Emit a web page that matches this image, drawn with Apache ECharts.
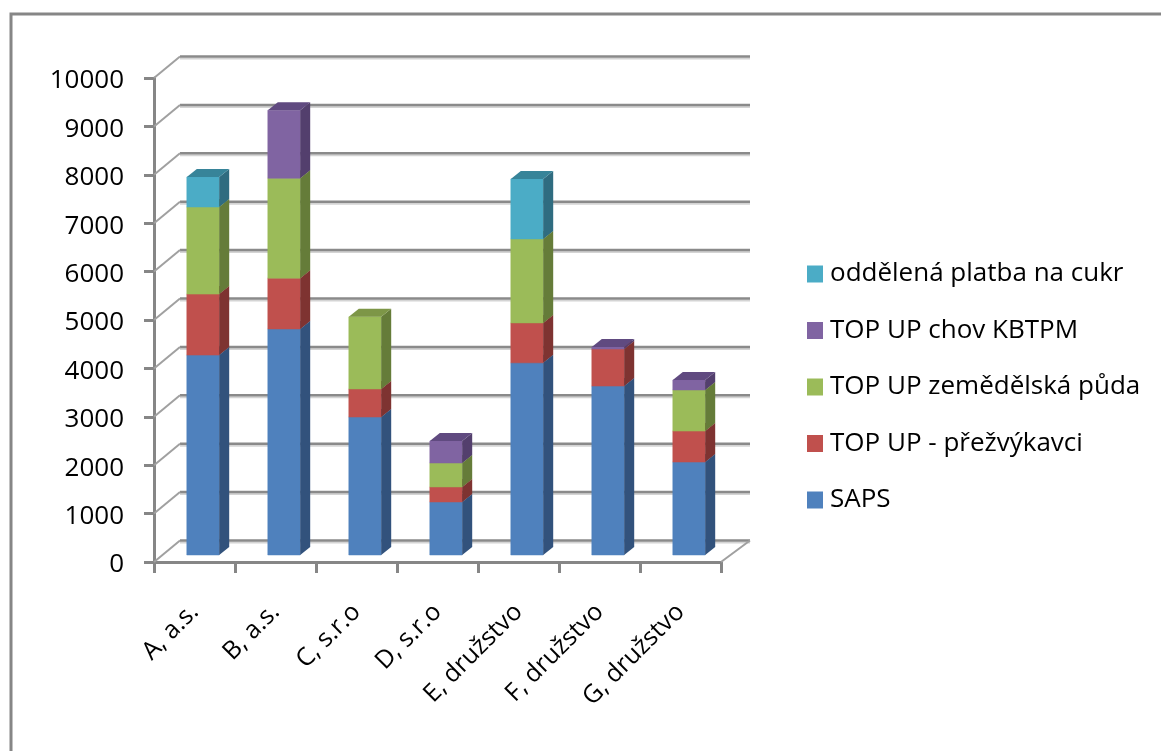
<!DOCTYPE html>
<html><head><meta charset="utf-8">
<style>html,body{margin:0;padding:0;background:#fff}#c{width:1161px;height:751px}</style>
<script src="https://cdn.jsdelivr.net/npm/echarts@6/dist/echarts.min.js"></script>
</head><body><div id="c"></div>
<script>
const categories = ['A, a.s.','B, a.s.','C, s.r.o','D, s.r.o','E, družstvo','F, družstvo','G, družstvo'];
const saps     = [4130,4670,2850,1095,3970,3490,1920];
const prezv    = [1260,1050, 580, 310, 825, 765, 640];
const puda     = [1800,2065,1490, 495,1735,   0, 850];
const kbtpm    = [   0,1405,   0, 455,   0,  40, 205];
const cukr     = [ 620,   0,   0,   0,1240,   0,   0];
const yTicks   = [0,1000,2000,3000,4000,5000,6000,7000,8000,9000,10000];
const seriesNames = ['SAPS','TOP UP - přežvýkavci','TOP UP zemědělská půda','TOP UP chov KBTPM','oddělená platba na cukr'];
const seriesValues = [saps,prezv,puda,kbtpm,cukr];
const fronts = ['#4f81bd','#c0504d','#9bbb59','#8064a2','#4bacc6'];
const sides  = ['#32527c','#7e3331','#657c39','#533f6d','#2f6c80'];
const tops   = ['#3f6798','#9a3f3d','#7d9647','#604a80','#378499'];

const FONT = '"Open Sans", sans-serif';
const running = categories.map(()=>0);
const stacked = seriesValues.map(vals => vals.map((v,i)=>{const a=running[i];running[i]+=v;return [i,a,a+v];}));

const bx=8.5, by=-7, dx=10, dy=-8, halfW=16.2;
function barItem(idx){
  return function(params, api){
    if(api.value(2)===api.value(1)) return null;
    const i=api.value(0);
    const c=api.coord([i,0])[0]+bx;
    const y0=api.coord([i,api.value(1)])[1]+by;
    const y1=api.coord([i,api.value(2)])[1]+by;
    const l=c-halfW, r=c+halfW;
    return {type:'group',children:[
      {type:'polygon',shape:{points:[[l,y0],[r,y0],[r,y1],[l,y1]]},style:{fill:fronts[idx],stroke:fronts[idx],lineWidth:0.5}},
      {type:'polygon',shape:{points:[[r,y0],[r+dx,y0+dy],[r+dx,y1+dy],[r,y1]]},style:{fill:sides[idx]}},
      {type:'polygon',shape:{points:[[l,y1],[r,y1],[r+dx,y1+dy],[l+dx,y1+dy]]},style:{fill:tops[idx]}}
    ]};
  };
}
function wallItem(params, api){
  const cs=params.coordSys, v=api.value(0);
  const y=api.coord([0,v])[1], L=cs.x, R=cs.x+cs.width;
  const kids=[
    {type:'line',shape:{x1:L+26,y1:y-19.5,x2:R+29,y2:y-19.5},style:{stroke:'#d4d4d4',lineWidth:2}},
    {type:'line',shape:{x1:L+26,y1:y-21.5,x2:R+29,y2:y-21.5},style:{stroke:'#8a8a8a',lineWidth:2.5}},
    {type:'line',shape:{x1:L,y1:y,x2:L+26,y2:y-21.5},style:{stroke:'#a0a0a0',lineWidth:2}}
  ];
  if(v===0) kids.push({type:'line',shape:{x1:R,y1:y,x2:R+29,y2:y-21.5},style:{stroke:'#a0a0a0',lineWidth:2}});
  return {type:'group',children:kids};
}
const chart=echarts.init(document.getElementById('c'),null,{renderer:'canvas'});
chart.setOption({
  animation:false,
  backgroundColor:'#fff',
  graphic:[{type:'polyline',silent:true,shape:{points:[[11,760],[11,14],[1170,14]]},style:{fill:null,stroke:'#868686',lineWidth:3}}],
  grid:{left:154,top:78,width:567,height:484,containLabel:false},
  xAxis:{type:'category',data:categories,
    axisLine:{lineStyle:{color:'#868686',width:3}},
    axisTick:{show:true,length:11,lineStyle:{color:'#868686',width:3}},
    axisLabel:{interval:0,rotate:45,margin:46,fontFamily:FONT,fontSize:25,color:'#000'}},
  yAxis:{type:'value',min:0,max:10000,interval:1000,
    splitLine:{show:false},
    axisLine:{show:true,lineStyle:{color:'#868686',width:3}},
    axisTick:{show:true,length:10,lineStyle:{color:'#868686',width:3}},
    axisLabel:{margin:30,fontFamily:FONT,fontSize:26,color:'#000',verticalAlign:'top',lineHeight:6,formatter:v=>String(v)}},
  legend:{orient:'vertical',left:807,top:259,padding:0,icon:'rect',itemWidth:16,itemHeight:17,itemGap:26.5,
    data:seriesNames.slice().reverse(),
    textStyle:{fontFamily:FONT,fontSize:26,lineHeight:30,color:'#000',padding:[0,0,0,2]},selectedMode:false},
  series:[
    {type:'custom',name:'wall',silent:true,z:1,renderItem:wallItem,data:yTicks.map(v=>[v]),encode:{y:0}},
    ...seriesNames.map((n,idx)=>({type:'custom',name:n,z:2+idx,silent:true,
      itemStyle:{color:fronts[idx]},renderItem:barItem(idx),data:stacked[idx],
      encode:{x:0,y:[1,2]}}))
  ]
});
</script></body></html>
